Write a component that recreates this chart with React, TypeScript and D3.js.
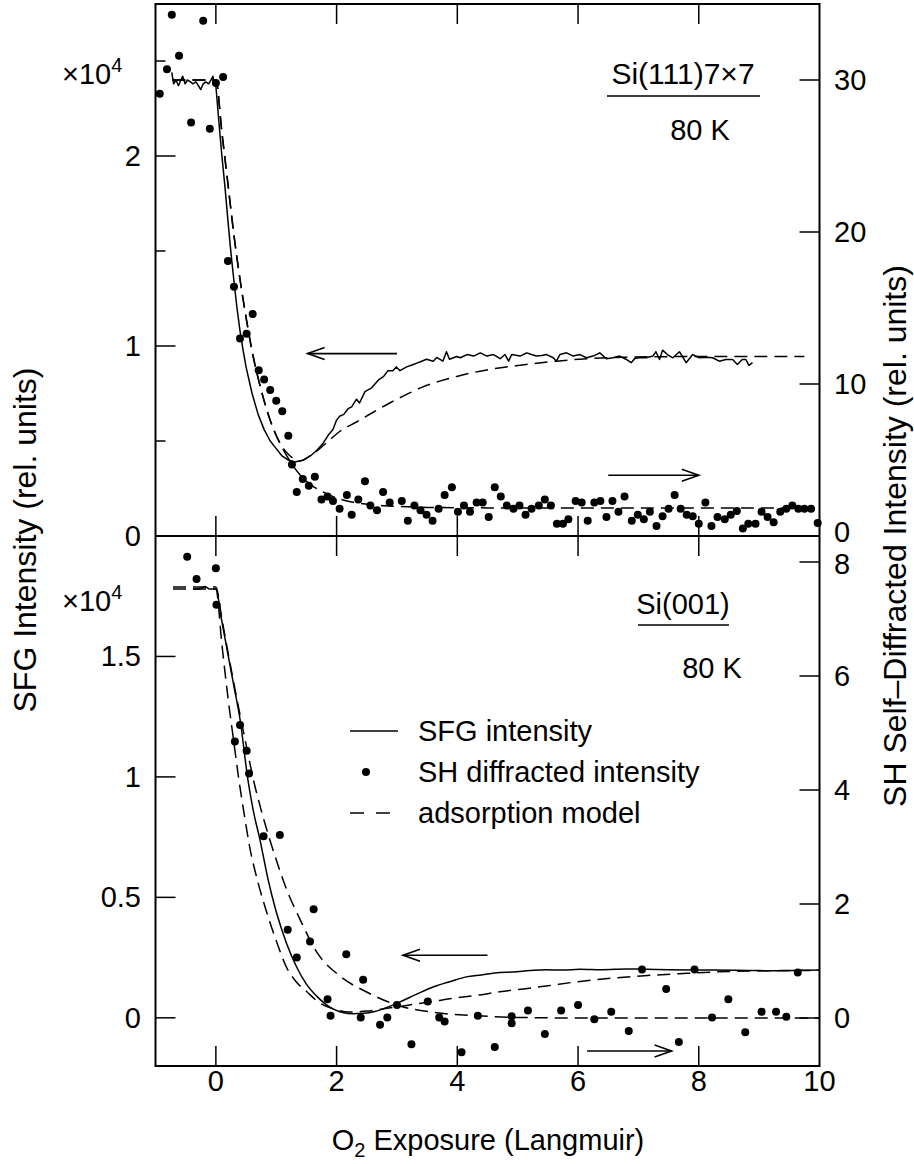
import React from "react";
import * as d3 from "d3";

const W = 914;
const H = 1164;

// ---------- x axis ----------
const xTicks = [0, 2, 4, 6, 8, 10];
const xTickLabels = ["0", "2", "4", "6", "8", "10"];

// ---------- top panel: Si(111)7x7 ----------
const topLeftTicksMajor = [0, 1, 2];
const topLeftTicksMinor = [0.5, 1.5, 2.5];
const topRightTicks = [0, 10, 20, 30];

// SFG intensity (left axis, x10^4)
const topSfg: [number, number][] = [
  [-0.73, 2.44], [-0.70, 2.38], [-0.66, 2.40], [-0.62, 2.37], [-0.58, 2.40], [-0.55, 2.42],
  [-0.51, 2.38], [-0.47, 2.40], [-0.42, 2.39], [-0.38, 2.38], [-0.33, 2.39], [-0.29, 2.37],
  [-0.25, 2.35], [-0.21, 2.38], [-0.17, 2.39], [-0.12, 2.38], [-0.08, 2.40], [-0.05, 2.42],
  [-0.02, 2.38], [0.0, 2.37], [0.05, 2.18], [0.1, 2.0], [0.15, 1.84], [0.2, 1.66], [0.25, 1.49],
  [0.3, 1.34], [0.35, 1.2], [0.4, 1.08], [0.45, 0.98], [0.5, 0.89], [0.6, 0.75], [0.7, 0.64],
  [0.8, 0.56], [0.9, 0.5], [1.0, 0.46], [1.1, 0.42], [1.2, 0.4], [1.31, 0.39], [1.45, 0.4],
  [1.56, 0.42], [1.67, 0.45], [1.78, 0.49], [1.86, 0.53], [1.94, 0.56], [2.0, 0.61], [2.05, 0.63],
  [2.12, 0.64], [2.19, 0.67], [2.25, 0.68], [2.33, 0.72], [2.38, 0.7], [2.47, 0.76], [2.58, 0.78],
  [2.69, 0.82], [2.78, 0.84], [2.85, 0.87], [2.93, 0.87], [2.99, 0.89], [3.05, 0.87], [3.16, 0.89],
  [3.25, 0.9], [3.33, 0.91], [3.41, 0.92], [3.49, 0.93], [3.6, 0.92], [3.66, 0.94], [3.76, 0.92],
  [3.82, 0.97], [3.87, 0.93], [3.99, 0.945], [4.05, 0.938], [4.16, 0.955], [4.27, 0.947],
  [4.38, 0.964], [4.49, 0.947], [4.6, 0.955], [4.71, 0.933], [4.79, 0.955], [4.85, 0.92],
  [4.9, 0.955], [5.04, 0.947], [5.15, 0.964], [5.23, 0.955], [5.31, 0.947], [5.4, 0.95],
  [5.48, 0.955], [5.59, 0.938], [5.64, 0.92], [5.7, 0.955], [5.81, 0.964], [5.92, 0.947],
  [6.03, 0.955], [6.14, 0.938], [6.25, 0.947], [6.36, 0.964], [6.47, 0.933], [6.58, 0.938],
  [6.69, 0.947], [6.8, 0.929], [6.88, 0.912], [6.94, 0.934], [7.04, 0.94], [7.13, 0.938],
  [7.24, 0.947], [7.29, 0.97], [7.35, 0.929], [7.4, 0.978], [7.48, 0.955], [7.57, 0.938],
  [7.68, 0.97], [7.79, 0.912], [7.9, 0.955], [8.01, 0.938], [8.12, 0.941], [8.23, 0.938],
  [8.34, 0.92], [8.45, 0.929], [8.56, 0.929], [8.64, 0.903], [8.72, 0.929], [8.78, 0.929],
  [8.83, 0.898], [8.89, 0.912],
];

// adsorption model for SFG (left axis)
const topSfgModel: [number, number][] = [
  [-0.72, 2.4], [0, 2.4], [0.1, 2.12], [0.2, 1.85], [0.3, 1.58], [0.4, 1.35], [0.5, 1.15],
  [0.6, 0.97], [0.7, 0.83], [0.8, 0.71], [0.9, 0.61], [1.0, 0.53], [1.1, 0.47], [1.2, 0.43],
  [1.3, 0.405], [1.4, 0.395], [1.55, 0.42], [1.72, 0.46], [1.9, 0.51], [2.05, 0.55], [2.33, 0.6],
  [2.6, 0.65], [2.88, 0.7], [3.16, 0.745], [3.43, 0.785], [3.71, 0.815], [3.99, 0.84],
  [4.26, 0.86], [4.54, 0.877], [5.08, 0.9], [5.64, 0.92], [6.19, 0.934], [6.8, 0.941],
  [7.5, 0.944], [8.5, 0.945], [9.75, 0.945],
];

// adsorption model for SH (right axis)
const topShModel: [number, number][] = [
  [-0.72, 30.0], [0, 30.0], [0.1, 26.6], [0.2, 23.2], [0.3, 19.8], [0.4, 16.9], [0.5, 14.4],
  [0.6, 12.2], [0.7, 10.4], [0.8, 8.9], [0.9, 7.6], [1.0, 6.6], [1.1, 5.8], [1.2, 5.1],
  [1.3, 4.5], [1.4, 4.0], [1.6, 3.3], [1.8, 2.85], [2.0, 2.5], [2.3, 2.2], [2.6, 2.05],
  [3.0, 1.95], [3.5, 1.88], [4.5, 1.85], [10, 1.85],
];

// SH diffracted intensity dots (right axis)
const topShDots: [number, number][] = [
  [-0.93, 29.1], [-0.81, 30.7], [-0.73, 34.3], [-0.61, 31.6], [-0.41, 27.2], [-0.21, 33.9],
  [-0.1, 26.8], [0.0, 29.8], [0.12, 30.2], [0.2, 18.1], [0.3, 16.4], [0.4, 13.0], [0.51, 13.3],
  [0.61, 14.6], [0.71, 10.9], [0.8, 10.3], [0.9, 9.6], [1.0, 8.9], [1.1, 8.2], [1.2, 6.6],
  [1.26, 4.7], [1.34, 2.9], [1.44, 3.75], [1.54, 3.3], [1.64, 3.9], [1.75, 2.4], [1.85, 2.6],
  [1.94, 2.3], [2.05, 1.8], [2.17, 2.7], [2.25, 1.4], [2.36, 2.4], [2.47, 3.6], [2.56, 2.0],
  [2.67, 1.7], [2.77, 2.9], [2.88, 2.2], [3.08, 2.3], [3.18, 1.0], [3.29, 2.0], [3.39, 1.7],
  [3.49, 1.4], [3.59, 1.0], [3.69, 1.8], [3.79, 2.7], [3.91, 3.2], [4.01, 1.6], [4.11, 2.0],
  [4.21, 1.6], [4.32, 2.2], [4.42, 2.2], [4.52, 1.25], [4.62, 3.2], [4.72, 2.6], [4.82, 2.0],
  [4.93, 1.8], [5.03, 2.0], [5.13, 1.4], [5.23, 1.8], [5.35, 2.0], [5.45, 2.4], [5.55, 2.0],
  [5.65, 0.8], [5.75, 0.8], [5.84, 1.1], [5.96, 2.3], [6.06, 2.2], [6.16, 1.0], [6.27, 2.2],
  [6.37, 2.3], [6.47, 1.25], [6.57, 2.3], [6.67, 1.6], [6.77, 2.6], [6.89, 1.0], [6.99, 1.4],
  [7.09, 1.1], [7.19, 1.6], [7.3, 0.66], [7.4, 1.3], [7.5, 1.8], [7.6, 2.7], [7.7, 1.8],
  [7.8, 1.4], [7.9, 1.3], [8.0, 0.8], [8.11, 2.2], [8.21, 0.66], [8.31, 1.25], [8.43, 1.1],
  [8.53, 1.4], [8.63, 1.65], [8.73, 0.5], [8.82, 0.8], [8.94, 0.8], [9.04, 1.6], [9.14, 1.25],
  [9.24, 0.9], [9.35, 1.6], [9.45, 1.8], [9.55, 2.0], [9.65, 1.8], [9.75, 1.8], [9.86, 1.8],
  [9.97, 0.85],
];

// ---------- bottom panel: Si(001) ----------
const botLeftTicks = [0, 0.5, 1, 1.5];
const botLeftLabels = ["0", "0.5", "1", "1.5"];
const botRightTicks = [0, 2, 4, 6, 8];

const botSfg: [number, number][] = [
  [-0.38, 1.78], [-0.3, 1.78], [-0.22, 1.785], [-0.18, 1.79], [-0.14, 1.785], [-0.1, 1.78],
  [-0.05, 1.78], [0, 1.78], [0.1, 1.645], [0.2, 1.51], [0.3, 1.375], [0.4, 1.24], [0.53, 0.99],
  [0.62, 0.86], [0.73, 0.74], [0.86, 0.58], [1.0, 0.44], [1.17, 0.31], [1.34, 0.21], [1.5, 0.14],
  [1.67, 0.09], [1.8, 0.06], [1.94, 0.037], [2.1, 0.022], [2.27, 0.017], [2.45, 0.019],
  [2.6, 0.024], [2.8, 0.04], [3.05, 0.066], [3.3, 0.095], [3.6, 0.128], [3.9, 0.152],
  [4.15, 0.17], [4.4, 0.178], [4.7, 0.188], [4.92, 0.19], [5.2, 0.196], [5.47, 0.2],
  [5.75, 0.198], [6.03, 0.202], [6.4, 0.2], [6.8, 0.203], [7.13, 0.202], [7.5, 0.2],
  [7.9, 0.199], [8.23, 0.198], [8.6, 0.197], [9.0, 0.196], [9.34, 0.195], [9.7, 0.197],
  [10, 0.198],
];

const botSfgModel: [number, number][] = [
  [-0.71, 1.78], [0, 1.78], [0.1, 1.55], [0.2, 1.33], [0.3, 1.14], [0.38, 0.99], [0.46, 0.86],
  [0.56, 0.71], [0.7, 0.56], [0.84, 0.44], [1.0, 0.32], [1.17, 0.21], [1.33, 0.15], [1.5, 0.11],
  [1.7, 0.065], [1.94, 0.037], [2.22, 0.024], [2.5, 0.028], [2.77, 0.037], [3.05, 0.047],
  [3.32, 0.058], [3.6, 0.068], [3.87, 0.079], [4.37, 0.095], [4.7, 0.108], [5.1, 0.12],
  [5.47, 0.132], [6.0, 0.15], [6.57, 0.165], [7.1, 0.175], [7.68, 0.183], [8.23, 0.19],
  [8.8, 0.194], [9.4, 0.196], [10, 0.197],
];

const botShModel: [number, number][] = [
  [-0.71, 7.56], [0, 7.56], [0.1, 7.0], [0.2, 6.42], [0.3, 5.86], [0.4, 5.32], [0.5, 4.8],
  [0.62, 4.19], [0.75, 3.65], [0.89, 3.14], [1.03, 2.68], [1.17, 2.26], [1.39, 1.74],
  [1.67, 1.16], [2.05, 0.74], [2.49, 0.46], [3.05, 0.21], [3.6, 0.1], [4.32, 0.04], [5.0, 0.01],
  [6.0, 0.0], [10, 0.0],
];

const botShDots: [number, number][] = [
  [-0.475, 8.09], [-0.32, 7.7], [0.0, 7.89], [0.01, 7.25], [0.315, 4.85], [0.4, 5.14],
  [0.51, 4.69], [0.55, 4.29], [0.79, 3.19], [1.06, 3.21], [1.19, 1.55], [1.34, 1.06],
  [1.56, 1.34], [1.62, 1.91], [1.85, 0.33], [1.9, 0.04], [2.16, 1.12], [2.4, 0.01], [2.44, 0.67],
  [2.72, -0.12], [2.84, 0.01], [3.0, 0.23], [3.24, -0.46], [3.51, 0.29], [3.7, 0.01],
  [3.79, -0.06], [4.07, -0.6], [4.34, 0.04], [4.62, -0.51], [4.9, 0.03], [4.9, -0.09],
  [5.17, 0.13], [5.45, -0.28], [5.72, 0.13], [6.0, 0.23], [6.27, -0.02], [6.55, 0.11],
  [6.84, -0.23], [7.06, 0.85], [7.46, 0.51], [7.67, -0.42], [7.93, 0.85], [8.22, 0.01],
  [8.49, 0.33], [8.77, -0.25], [9.04, 0.11], [9.28, 0.11], [9.45, 0.02], [9.64, 0.8],
];

const legendItems = ["SFG intensity", "SH diffracted intensity", "adsorption model"];

// ---------- geometry ----------
const X0 = 155.5;
const X1 = 819.5;
const TOP = 4;
const MID = 536;
const BOT = 1066;
const FONT = "Liberation Sans, Arial, Helvetica, sans-serif";
const FS = 29;
const FS_AX = 32;

const x = d3.scaleLinear().domain([-1, 10]).range([X0, X1]);
const yTL = d3.scaleLinear().domain([0, 2.8]).range([MID, TOP]);
const yTR = d3.scaleLinear().domain([0, 35]).range([MID, TOP]);
const yBL = d3.scaleLinear().domain([-0.2, 2.0]).range([BOT, MID]);
const yBR = d3.scaleLinear().domain([-48 / 57, 482 / 57]).range([BOT, MID]);

type Pt = [number, number];
const mkLine = (ys: d3.ScaleLinear<number, number>, smooth: boolean) => {
  const l = d3.line<Pt>().x((d) => x(d[0])).y((d) => ys(d[1]));
  if (smooth) l.curve(d3.curveMonotoneX);
  return l;
};

const DASH = "13,7";

function Arrow({ x1, x2, y }: { x1: number; x2: number; y: number }) {
  const dir = x2 > x1 ? 1 : -1;
  const hl = 17;
  const hw = 6;
  return (
    <g stroke="#000" strokeWidth={1.6} fill="none">
      <line x1={x1} y1={y} x2={x2} y2={y} />
      <path d={`M${x2 - dir * hl},${y - hw} L${x2},${y} L${x2 - dir * hl},${y + hw}`} />
    </g>
  );
}

export default function App() {
  const tickX = xTicks.filter((t) => t < 10);
  // right-axis label nudges so the two stacked labels at the panel split do not collide
  const rightLabelY = (yy: number, v: number, top: boolean) => {
    if (top && v === 0) return yy + 6;
    if (!top && v === 8) return yy + 12;
    return yy + 10;
  };
  return (
    <svg
      width={W}
      height={H}
      style={{ position: "absolute", left: 0, top: 0, background: "#fff" }}
      fontFamily={FONT}
    >
      <rect x={0} y={0} width={W} height={H} fill="#fff" />

      {/* ---------- top panel curves ---------- */}
      <path d={mkLine(yTL, true)(topSfgModel) || ""} fill="none" stroke="#000" strokeWidth={1.5} strokeDasharray={DASH} />
      <path d={mkLine(yTR, true)(topShModel) || ""} fill="none" stroke="#000" strokeWidth={1.5} strokeDasharray={DASH} />
      <path d={mkLine(yTL, false)(topSfg) || ""} fill="none" stroke="#000" strokeWidth={1.5} strokeLinejoin="round" />
      {topShDots.map((d, i) => (
        <circle key={"td" + i} cx={x(d[0])} cy={yTR(d[1])} r={4} fill="#000" />
      ))}

      {/* ---------- bottom panel curves ---------- */}
      <path d={mkLine(yBL, true)(botSfgModel) || ""} fill="none" stroke="#000" strokeWidth={1.5} strokeDasharray={DASH} />
      <path d={mkLine(yBR, true)(botShModel) || ""} fill="none" stroke="#000" strokeWidth={1.5} strokeDasharray={DASH} />
      <path d={mkLine(yBL, true)(botSfg) || ""} fill="none" stroke="#000" strokeWidth={1.5} />
      {botShDots.map((d, i) => (
        <circle key={"bd" + i} cx={x(d[0])} cy={yBR(d[1])} r={4} fill="#000" />
      ))}

      {/* ---------- frames ---------- */}
      <g stroke="#000" strokeWidth={2} fill="none">
        <rect x={X0} y={TOP} width={X1 - X0} height={BOT - TOP} />
        <line x1={X0} x2={X1} y1={MID} y2={MID} />
      </g>

      {/* ticks */}
      <g stroke="#000" strokeWidth={1.5}>
        {tickX.map((t) => (
          <g key={"xt" + t}>
            <line x1={x(t)} x2={x(t)} y1={TOP} y2={TOP + 20} />
            <line x1={x(t)} x2={x(t)} y1={MID - 20} y2={MID} />
            <line x1={x(t)} x2={x(t)} y1={MID} y2={MID + 20} />
            <line x1={x(t)} x2={x(t)} y1={BOT - 20} y2={BOT} />
          </g>
        ))}
        {topLeftTicksMajor.map((v) => (
          <line key={"tlm" + v} x1={X0} x2={X0 + 20} y1={yTL(v)} y2={yTL(v)} />
        ))}
        {topLeftTicksMinor.map((v) => (
          <line key={"tln" + v} x1={X0} x2={X0 + 10} y1={yTL(v)} y2={yTL(v)} />
        ))}
        {topRightTicks.map((v) => (
          <line key={"tr" + v} x1={X1 - 20} x2={X1} y1={yTR(v)} y2={yTR(v)} />
        ))}
        {botLeftTicks.map((v) => (
          <line key={"bl" + v} x1={X0} x2={X0 + 20} y1={yBL(v)} y2={yBL(v)} />
        ))}
        {botRightTicks.map((v) => (
          <line key={"br" + v} x1={X1 - 20} x2={X1} y1={yBR(v)} y2={yBR(v)} />
        ))}
      </g>

      {/* tick labels */}
      <g fontSize={FS} fill="#000">
        {topLeftTicksMajor.map((v) => (
          <text key={"tll" + v} x={141} y={yTL(v) + 10} textAnchor="end">{String(v)}</text>
        ))}
        {topRightTicks.map((v) => (
          <text key={"trl" + v} x={834} y={rightLabelY(yTR(v), v, true)}>{String(v)}</text>
        ))}
        {botLeftTicks.map((v, i) => (
          <text key={"bll" + v} x={141} y={yBL(v) + 10} textAnchor="end">{botLeftLabels[i]}</text>
        ))}
        {botRightTicks.map((v) => (
          <text key={"brl" + v} x={834} y={rightLabelY(yBR(v), v, false)}>{String(v)}</text>
        ))}
        {xTicks.map((t, i) => (
          <text key={"xl" + t} x={x(t)} y={1091} textAnchor="middle">{xTickLabels[i]}</text>
        ))}
      </g>

      {/* multipliers */}
      <text x={62} y={84} fontSize={FS}>×10<tspan fontSize={20} dy={-12}>4</tspan></text>
      <text x={62} y={611} fontSize={FS}>×10<tspan fontSize={20} dy={-12}>4</tspan></text>

      {/* axis titles */}
      <text transform={`translate(36,540) rotate(-90)`} textAnchor="middle" fontSize={FS_AX}>
        SFG Intensity (rel. units)
      </text>
      <text transform={`translate(906,536) rotate(-90)`} textAnchor="middle" fontSize={FS_AX}>
        SH Self–Diffracted Intensity (rel. units)
      </text>
      <text x={488} y={1150} textAnchor="middle" fontSize={FS}>
        O<tspan fontSize={20} dy={7}>2</tspan><tspan dy={-7}> Exposure (Langmuir)</tspan>
      </text>

      {/* sample labels */}
      <text x={683} y={84} textAnchor="middle" fontSize={30}>Si(111)7×7</text>
      <line x1={607} x2={760} y1={96} y2={96} stroke="#000" strokeWidth={1.5} />
      <text x={700} y={140} textAnchor="middle" fontSize={FS}>80 K</text>
      <text x={683} y={614} textAnchor="middle" fontSize={FS}>Si(001)</text>
      <line x1={638} x2={729} y1={625} y2={625} stroke="#000" strokeWidth={1.5} />
      <text x={712} y={678} textAnchor="middle" fontSize={FS}>80 K</text>

      {/* arrows */}
      <Arrow x1={x(3.0)} x2={x(1.52)} y={yTL(0.96)} />
      <Arrow x1={x(6.5)} x2={x(8.0)} y={yTR(4.0)} />
      <Arrow x1={x(4.5)} x2={x(3.1)} y={yBL(0.26)} />
      <Arrow x1={x(6.15)} x2={x(7.55)} y={yBR(-0.58)} />

      {/* legend */}
      <g fontSize={FS}>
        <line x1={350} x2={398} y1={731} y2={731} stroke="#000" strokeWidth={1.5} />
        <text x={418} y={741}>{legendItems[0]}</text>
        <circle cx={366} cy={772} r={4} fill="#000" />
        <text x={418} y={782}>{legendItems[1]}</text>
        <line x1={350} x2={390} y1={813} y2={813} stroke="#000" strokeWidth={1.5} strokeDasharray="14,12" />
        <text x={418} y={823}>{legendItems[2]}</text>
      </g>
    </svg>
  );
}
